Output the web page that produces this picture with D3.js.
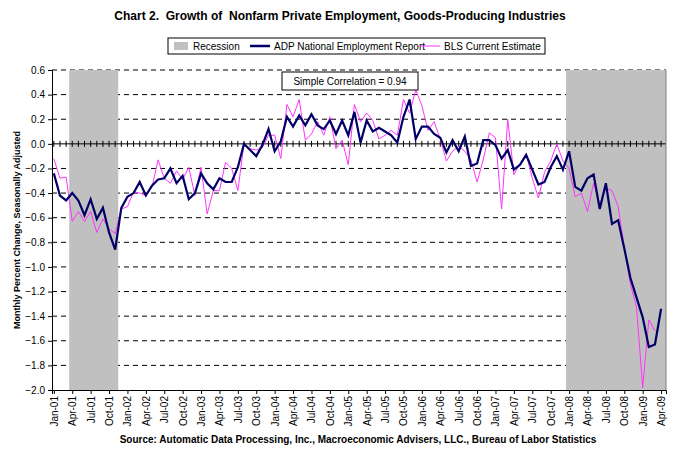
<!DOCTYPE html>
<html><head><meta charset="utf-8">
<script src="https://cdn.jsdelivr.net/npm/d3@7"></script>
<style>body{margin:0;background:#fff}svg{font-family:"Liberation Sans",Arial,sans-serif}</style>
</head><body><svg id="c" width="676" height="451"></svg>
<script>
const startYear = 2001, monthCount = 100;
const monthNames = ["Jan","Feb","Mar","Apr","May","Jun","Jul","Aug","Sep","Oct","Nov","Dec"];
const adp = [-0.24,-0.42,-0.46,-0.40,-0.46,-0.58,-0.45,-0.61,-0.52,-0.72,-0.86,-0.52,
-0.43,-0.40,-0.31,-0.42,-0.34,-0.29,-0.28,-0.20,-0.32,-0.26,-0.45,-0.40,
-0.24,-0.32,-0.37,-0.28,-0.31,-0.31,-0.19,0.0,-0.05,-0.10,-0.01,0.12,
-0.06,0.02,0.22,0.14,0.23,0.15,0.24,0.15,0.12,0.19,0.08,0.19,
0.07,0.26,0.01,0.19,0.10,0.13,0.10,0.07,0.01,0.22,0.36,0.04,
0.14,0.14,0.08,0.05,-0.07,0.03,-0.06,0.06,-0.18,-0.16,0.03,0.03,
-0.01,-0.12,-0.05,-0.21,-0.17,-0.09,-0.21,-0.33,-0.31,-0.19,-0.10,-0.21,
-0.06,-0.35,-0.38,-0.28,-0.25,-0.53,-0.32,-0.65,-0.62,-0.85,-1.09,-1.25,
-1.41,-1.65,-1.63,-1.34];
const bls = [-0.12,-0.28,-0.27,-0.63,-0.55,-0.63,-0.55,-0.72,-0.61,-0.69,-0.73,-0.53,
-0.51,-0.39,-0.40,-0.42,-0.35,-0.13,-0.28,-0.32,-0.22,-0.29,-0.19,-0.42,
-0.19,-0.57,-0.38,-0.38,-0.15,-0.20,-0.38,0.0,-0.04,-0.05,-0.03,0.07,
0.07,-0.12,0.32,0.22,0.36,0.03,0.08,0.18,0.07,0.22,-0.04,0.03,
-0.17,0.32,0.18,0.25,0.19,0.04,0.07,0.11,0.07,0.36,0.25,0.44,
0.31,0.11,0.18,0.04,-0.14,-0.06,-0.02,-0.06,-0.13,-0.31,-0.13,0.09,
0.05,-0.53,0.20,-0.25,-0.16,-0.08,-0.28,-0.44,-0.23,-0.14,0.0,-0.14,
-0.20,-0.43,-0.40,-0.55,-0.32,-0.49,-0.36,-0.38,-0.51,-0.84,-1.14,-1.33,
-1.98,-1.43,-1.52,null];
const recessions = [[2.5,10.5],[83.5,100.5]];
const yTicks = [0.6,0.4,0.2,0.0,-0.2,-0.4,-0.6,-0.8,-1.0,-1.2,-1.4,-1.6,-1.8,-2.0];

const svg = d3.select("#c");
const L=52,R=666,T=70,B=390;
const x = d3.scaleLinear().domain([-0.3,99.8]).range([L,R]);
const y = d3.scaleLinear().domain([-2,0.6]).range([B,T]);
const lab = i => monthNames[i%12]+"-"+String((startYear+Math.floor(i/12))%100).padStart(2,"0");

svg.append("text").attr("x",340).attr("y",20).attr("text-anchor","middle").attr("font-weight","bold").attr("font-size",12)
  .style("white-space","pre")
  .text("Chart 2.  Growth of  Nonfarm Private Employment, Goods-Producing Industries");

// gridlines
svg.selectAll("line.g").data(yTicks.filter(v=>v!==0&&v!==-2)).join("line").attr("x1",L).attr("x2",R)
  .attr("y1",d=>y(d)).attr("y2",d=>y(d)).attr("stroke","#000").attr("stroke-dasharray","5,4").attr("stroke-width",1);

// recessions (cover gridlines)
svg.selectAll("rect.rec").data(recessions).join("rect").attr("x",d=>x(d[0])).attr("width",d=>Math.min(x(d[1]),R)-x(d[0]))
  .attr("y",T).attr("height",B-T).attr("fill","#c0c0c0");

// zero axis with monthly ticks
svg.append("line").attr("x1",L).attr("x2",R).attr("y1",y(0)).attr("y2",y(0)).attr("stroke","#000");
svg.selectAll("line.zt").data(d3.range(monthCount)).join("line").attr("x1",d=>x(d)).attr("x2",d=>x(d))
  .attr("y1",y(0)-3).attr("y2",y(0)+3).attr("stroke","#000");

// axes
const ya = svg.append("g").attr("transform",`translate(${L},0)`).call(d3.axisLeft(y).tickValues(yTicks).tickFormat(d3.format(".1f")).tickSize(4));
ya.selectAll("text").attr("font-size",10).attr("font-family","Liberation Sans, Arial");
ya.select(".domain").attr("stroke","#000");
const xa = svg.append("g").attr("transform",`translate(0,${B})`).call(d3.axisBottom(x).tickValues(d3.range(0,monthCount,3)).tickFormat(lab).tickSize(4));
xa.select(".domain").attr("stroke","#000");
xa.selectAll("text").attr("font-size",10).attr("font-family","Liberation Sans, Arial").attr("transform","rotate(-90)")
  .attr("text-anchor","end").attr("dy","0.35em").attr("x",-6).attr("y",0);
svg.append("line").attr("x1",R).attr("x2",R).attr("y1",T).attr("y2",B).attr("stroke","#808080");

// lines
const ln = d3.line().defined(d=>d!=null).x((d,i)=>x(i)).y(d=>y(d));
svg.append("path").datum(bls).attr("d",ln).attr("fill","none").attr("stroke","#ff33ff").attr("stroke-width",1);
svg.append("path").datum(adp).attr("d",ln).attr("fill","none").attr("stroke","#000066").attr("stroke-width",2.2);

// correlation box
svg.append("rect").attr("x",282).attr("y",72).attr("width",136).attr("height",18).attr("fill","#fff").attr("stroke","#000");
svg.append("text").attr("x",350).attr("y",85).attr("text-anchor","middle").attr("font-size",10).text("Simple Correlation = 0.94");

// legend
const lg = svg.append("g");
lg.append("rect").attr("x",168).attr("y",38).attr("width",377).attr("height",16).attr("fill","#fff").attr("stroke","#000");
lg.append("rect").attr("x",174).attr("y",42).attr("width",14).attr("height",8).attr("fill","#c0c0c0");
lg.append("text").attr("x",193).attr("y",50).attr("font-size",10).text("Recession");
lg.append("line").attr("x1",250).attr("x2",270).attr("y1",46).attr("y2",46).attr("stroke","#000066").attr("stroke-width",2.5);
lg.append("text").attr("x",274).attr("y",50).attr("font-size",10).text("ADP National Employment Report");
lg.append("line").attr("x1",420).attr("x2",440).attr("y1",46).attr("y2",46).attr("stroke","#ff33ff").attr("stroke-width",1);
lg.append("text").attr("x",444).attr("y",50).attr("font-size",10).text("BLS Current Estimate");

svg.append("text").attr("transform","translate(20,230) rotate(-90)").attr("text-anchor","middle").attr("font-size",9).attr("font-weight","bold")
  .text("Monthly Percent Change, Seasonally Adjusted");
svg.append("text").attr("x",358).attr("y",443).attr("text-anchor","middle").attr("font-size",10).attr("font-weight","bold")
  .text("Source: Automatic Data Processing, Inc., Macroeconomic Advisers, LLC., Bureau of Labor Statistics");
</script></body></html>
